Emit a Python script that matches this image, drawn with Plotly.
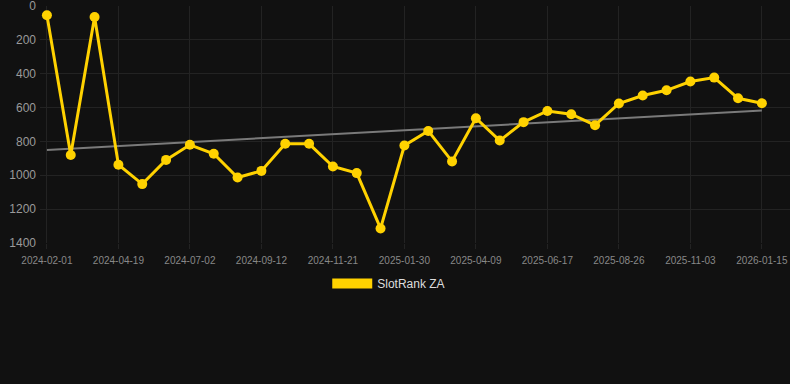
import plotly.graph_objects as go

# Rank values (lower is better) at each sample, in order
rank = [55, 880, 65, 938, 1052, 909, 820, 873, 1013, 974, 814, 814, 948, 987, 1314,
        824, 738, 918, 663, 795, 686, 620, 639, 704, 576, 529, 498, 446, 423, 545, 574]
# Tick labels shown on every third sample
tick_labels = ["2024-02-01", "2024-04-19", "2024-07-02", "2024-09-12", "2024-11-21",
               "2025-01-30", "2025-04-09", "2025-06-17", "2025-08-26", "2025-11-03", "2026-01-15"]
trend_ends = [850, 618]
y_ticks = [0, 200, 400, 600, 800, 1000, 1200, 1400]

idx = list(range(len(rank)))
tick_pos = idx[::3]

GOLD = "#FFD200"
BG = "#111111"
GRID = "#232323"

fig = go.Figure()
fig.add_trace(go.Scatter(
    x=[idx[0], idx[-1]], y=trend_ends, mode="lines",
    line=dict(color="#7a7a7a", width=2), showlegend=False, hoverinfo="skip"))
fig.add_trace(go.Scatter(
    x=idx, y=rank, mode="lines+markers",
    line=dict(color=GOLD, width=3), marker=dict(color=GOLD, size=10),
    showlegend=False, name="SlotRank ZA"))
fig.add_trace(go.Scatter(
    x=[None], y=[None], mode="lines", name="SlotRank ZA",
    line=dict(color=GOLD, width=11), showlegend=True))

fig.update_layout(
    width=790, height=384,
    paper_bgcolor=BG, plot_bgcolor=BG,
    margin=dict(l=40, r=0, t=6, b=141),
    font=dict(family="Liberation Sans, Arial, sans-serif", color="#999999"),
    xaxis=dict(range=[-0.29, 31.18], tickvals=tick_pos, ticktext=tick_labels,
               showgrid=True, gridcolor=GRID, zeroline=False, showline=False,
               ticks="outside", ticklen=5, tickcolor=GRID, ticklabeloverflow="allow",
               ticklabelstandoff=3,
               tickfont=dict(size=10, color="#888888")),
    yaxis=dict(range=[1400, 0], tickvals=y_ticks, ticktext=[str(v) for v in y_ticks],
               showgrid=True, gridcolor=GRID, ticklabeloverflow="allow",
               zeroline=False, showline=False, ticks="", automargin=False,
               ticklabelstandoff=3,
               tickfont=dict(size=12, color="#9a9a9a")),
    legend=dict(orientation="h", x=0.465, xanchor="center", y=-0.11, yanchor="top",
                font=dict(size=12, color="#dddddd"), itemwidth=40,
                bgcolor="rgba(0,0,0,0)"),
    hovermode=False,
)

fig.write_html("out.html", config={"displayModeBar": False},
               post_script="document.body.style.margin='0';document.body.style.background='#111111';")
